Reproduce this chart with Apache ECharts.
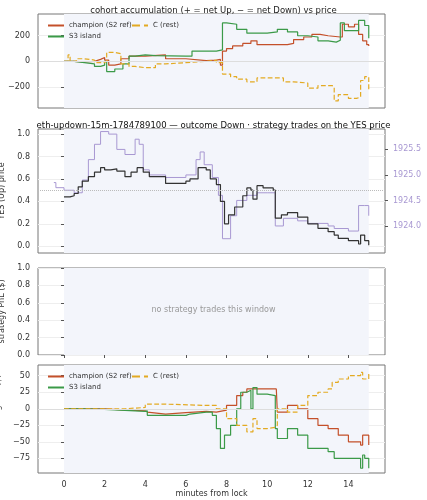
<!DOCTYPE html>
<html><head><meta charset="utf-8">
<script src="https://cdn.jsdelivr.net/npm/echarts@6/dist/echarts.min.js"></script>
<style>html,body{margin:0;padding:0;background:#fff}#chart{width:427px;height:500px}</style>
</head><body><div id="chart"></div>
<script>
"use strict";

const xTicks = [0, 2, 4, 6, 8, 10, 12, 14];

// panel 1: accumulated net YES shares
const accChampion = [[0,0],[0.5,-5],[1,0],[1.5,15],[1.8,30],[2,10],[2.2,-30],[2.5,-20],[2.8,20],[3.2,40],[3.5,40],[4,50],[5,20],[6,5],[7,10],[7.5,15],[7.7,-30],[7.8,80],[8,100],[8.3,120],[8.8,140],[9.2,160],[9.5,130],[10.5,130],[11,140],[11.3,170],[11.8,190],[12.2,210],[12.6,200],[13,190],[13.6,190],[13.7,290],[14,270],[14.3,290],[14.5,210],[14.7,160],[14.9,130],[15,120]];
const accS3 = [[0,0],[0.5,-10],[1,-20],[1.5,-40],[1.8,-30],[2,0],[2.1,-80],[2.5,-60],[2.9,-20],[3.2,40],[3.5,50],[4,45],[4.5,40],[6,40],[6.3,80],[7,80],[7.5,90],[7.8,300],[8,290],[8.5,250],[9,220],[10,230],[10.5,250],[11,230],[11.5,200],[12,190],[12.5,160],[13,150],[13.4,165],[13.6,300],[13.8,240],[14.3,240],[14.5,320],[14.8,280],[15,180]];
const accRest = [[0,0],[0.2,50],[0.3,0],[0.6,20],[1,10],[1.5,-10],[2,0],[2.1,70],[2.5,60],[2.8,-20],[3.2,-40],[3.5,-50],[4,-50],[4.5,-20],[5,-10],[6,0],[7,10],[7.5,-10],[7.8,-100],[8.2,-120],[8.5,-140],[9,-160],[9.5,-130],[10.3,-130],[10.8,-160],[11.3,-170],[12,-210],[12.5,-190],[13.2,-200],[13.3,-310],[13.5,-260],[14,-290],[14.4,-280],[14.6,-150],[14.8,-120],[15,-230]];

// panel 2: YES price and ETH/USD
const yesPrice = [[0,0.44],[0.3,0.45],[0.5,0.47],[0.7,0.53],[0.9,0.58],[1.2,0.62],[1.5,0.66],[1.8,0.70],[2,0.68],[2.3,0.69],[2.6,0.67],[3,0.62],[3.3,0.66],[3.6,0.70],[3.9,0.66],[4.2,0.62],[5,0.56],[6,0.58],[6.2,0.60],[6.6,0.70],[7,0.68],[7.2,0.6],[7.5,0.55],[7.7,0.40],[7.9,0.2],[8.1,0.28],[8.4,0.35],[8.8,0.45],[9,0.52],[9.2,0.5],[9.3,0.42],[9.5,0.54],[9.8,0.52],[10.3,0.5],[10.4,0.25],[10.7,0.28],[11,0.3],[11.5,0.26],[12,0.2],[12.5,0.16],[13,0.13],[13.3,0.1],[13.5,0.07],[14,0.05],[14.5,0.02],[14.6,0.1],[14.8,0.05],[15,0.01]];
const ethUsd = [[-0.5,1924.85],[-0.4,1924.75],[0,1924.7],[0.5,1924.65],[0.9,1924.9],[1.2,1925.3],[1.5,1925.6],[1.8,1925.85],[2.2,1925.8],[2.6,1925.5],[3,1925.4],[3.5,1925.7],[3.7,1925.6],[3.9,1925.1],[4.2,1925.0],[5,1924.95],[6,1925.0],[6.5,1925.3],[6.7,1925.45],[6.9,1925.2],[7.3,1924.95],[7.6,1924.6],[7.8,1923.75],[8.2,1924.2],[8.5,1924.5],[9,1924.6],[9.5,1924.65],[10,1924.65],[10.4,1924.0],[10.8,1924.15],[11.5,1924.1],[12,1924.05],[13,1924.0],[13.3,1923.95],[14,1923.9],[14.5,1924.4],[14.8,1924.4],[15,1924.2]];

// panel 4: moving PnL
const pnlChampion = [[0,0],[1,0],[2,-2],[3,-3],[4,-5],[4.1,-8],[5,-6],[6,-4],[7,-5],[7.5,-2],[8,5],[8.5,20],[8.8,25],[9,30],[10.45,30],[10.5,-5],[11,5],[11.5,0],[12,-15],[12.5,-25],[13,-30],[13.5,-40],[14,-50],[14.6,-55],[14.7,-40],[15,-55]];
const pnlS3 = [[0,0],[1,-1],[2,-4],[4,-3],[4.1,-10],[6,-8],[6.2,-5],[7,-5],[7.3,-10],[7.5,-30],[7.7,-60],[7.9,-40],[8.2,-25],[8.5,0],[8.7,25],[9,28],[9.2,0],[9.3,32],[9.5,22],[10,20],[10.4,-30],[10.5,-45],[11,-30],[11.5,-40],[12,-60],[13,-65],[13.3,-75],[14,-75],[14.6,-90],[14.7,-70],[14.8,-75],[15,-90]];
const pnlRest = [[0,0],[1,0],[3,2],[4,7],[5,5],[7,5],[7.5,0],[8,-15],[8.5,-25],[9,-35],[9.3,-15],[9.5,-30],[10,-28],[10.4,-25],[10.5,0],[11,-5],[11.5,5],[12,20],[12.5,25],[13,30],[13.2,40],[13.5,45],[14,50],[14.6,55],[14.7,45],[15,55]];

const accTicks = [-200, 0, 200];
const yesTicks = [0, 0.2, 0.4, 0.6, 0.8, 1.0];
const ethTicks = [1924.0, 1924.5, 1925.0, 1925.5];
const pnlTicks = [-75, -50, -25, 0, 25, 50];

const RED = "#c4502a", GREEN = "#3b9a48", ORANGE = "#e3aa22", PURPLE = "#a898d2";
const font = "DejaVu Sans";
const myChart = echarts.init(document.getElementById("chart"));

const grids = [
	{top:14,height:94},{top:129,height:124},{top:268,height:87},{top:365,height:108}
].map(g=>Object.assign({left:38,right:42,show:true,borderColor:"#777",borderWidth:1,backgroundColor:"#fff",outerBoundsMode:"none",containLabel:false},g));

const tickStyle = {color:"#555"};
const labelStyle = {fontSize:8,color:"#333",fontFamily:font};
const minus = v=>String(v).replace("-","−");

function xAxis(i, labels){
	return {
		type:"value", gridIndex:i, min:-1.28, max:15.8,
		axisLine:{show:false},
		axisTick:{show:true,customValues:xTicks,length:3,lineStyle:tickStyle},
		axisLabel:Object.assign({show:labels,customValues:xTicks},labelStyle),
		splitLine:{show:true,lineStyle:{color:"#eee"}},
		name:labels?"minutes from lock":"", nameLocation:"middle", nameGap:15,
		nameTextStyle:labelStyle
	};
}
function yAxis(i, ticks, fmt, opt){
	return Object.assign({
		type:"value", gridIndex:i, nameLocation:"middle", nameGap:24,
		axisLine:{show:false},
		axisTick:{show:true,length:3,customValues:ticks,lineStyle:tickStyle},
		axisLabel:Object.assign({customValues:ticks,formatter:fmt},labelStyle),
		splitLine:{show:true,lineStyle:{color:"#eee"}},
		nameTextStyle:labelStyle
	}, opt);
}
const band = {silent:true,itemStyle:{color:"#f3f5fb"},data:[[{xAxis:0},{xAxis:15}]]};
function step(name, data, color, xi, yi, extra){
	return Object.assign({
		type:"line", name, data, step:"end", showSymbol:false, xAxisIndex:xi, yAxisIndex:yi,
		lineStyle:{color,width:1.2}, itemStyle:{color}, z:3
	}, extra);
}
const zeroLine = {silent:true,symbol:"none",label:{show:false},lineStyle:{color:"#ddd",type:"solid",width:1},data:[{yAxis:0}]};

function legendItem(name, left, top){
	return {data:[name],left,top,itemWidth:16,itemHeight:2,itemGap:4,selectedMode:false,
		textStyle:{fontSize:7,color:"#333",fontFamily:font},itemStyle:{opacity:0}};
}

const option = {
	animation:false,
	title:[
		{text:"cohort accumulation (+ = net Up, − = net Down) vs price",left:"center",top:1,textStyle:{fontSize:8.5,fontWeight:"normal",color:"#222",fontFamily:font}},
		{text:"eth-updown-15m-1784789100 — outcome Down · strategy trades on the YES price",left:"center",top:116,textStyle:{fontSize:8.5,fontWeight:"normal",color:"#111",fontFamily:font}}
	],
	legend:[
		legendItem("champion (S2 ref)",42,17),legendItem("C (rest)",126,17),legendItem("S3 island",42,28),
		legendItem("champion (S2 ref)",42,368),legendItem("C (rest)",126,368),legendItem("S3 island",42,379)
	],
	grid:grids,
	xAxis:[xAxis(0,false),xAxis(1,false),xAxis(2,false),xAxis(3,true)],
	yAxis:[
		yAxis(0,accTicks,minus,{min:-365,max:370,name:"acc. net YES (shares)"}),
		yAxis(1,yesTicks,v=>v.toFixed(1),{min:-0.06,max:1.045,name:"YES (Up) price"}),
		yAxis(1,ethTicks,v=>v.toFixed(1),{min:1923.47,max:1925.9,position:"right",splitLine:{show:false},
			name:"ETH/USD (strike dotted = YES 0.5)",nameGap:34,nameRotate:-90,
			nameTextStyle:{fontSize:7,color:PURPLE,fontFamily:font},
			axisLabel:{fontSize:8,color:PURPLE,fontFamily:font,customValues:ethTicks,formatter:v=>v.toFixed(1)}}),
		yAxis(2,yesTicks,v=>v.toFixed(1),{min:0,max:1,name:"strategy PnL ($)"}),
		yAxis(3,pnlTicks,minus,{min:-97.2,max:66.2,name:"cohort moving PnL ($)"})
	],
	graphic:[{type:"text",left:"center",top:306,z:100,style:{text:"no strategy trades this window",fontSize:8,fill:"#999",fontFamily:font}}],
	series:[
		step("champion (S2 ref)",accChampion,RED,0,0,{markArea:band,markLine:zeroLine}),
		step("S3 island",accS3,GREEN,0,0),
		step("C (rest)",accRest,ORANGE,0,0,{lineStyle:{color:ORANGE,width:1.2,type:"dashed"}}),
		step("eth",ethUsd,PURPLE,1,2,{lineStyle:{color:PURPLE,width:1},z:2,markArea:band}),
		step("yes",yesPrice,"#333",1,1,{markLine:{silent:true,symbol:"none",label:{show:false},lineStyle:{color:"#bbb",type:"dotted",width:1},data:[{yAxis:0.5}]}}),
		{type:"line",data:[[0,-1]],showSymbol:false,xAxisIndex:2,yAxisIndex:3,markArea:band},
		step("champion (S2 ref)",pnlChampion,RED,3,4,{markArea:band,markLine:zeroLine}),
		step("S3 island",pnlS3,GREEN,3,4),
		step("C (rest)",pnlRest,ORANGE,3,4,{lineStyle:{color:ORANGE,width:1.2,type:"dashed"}})
	]
};
myChart.setOption(option);
</script></body></html>
